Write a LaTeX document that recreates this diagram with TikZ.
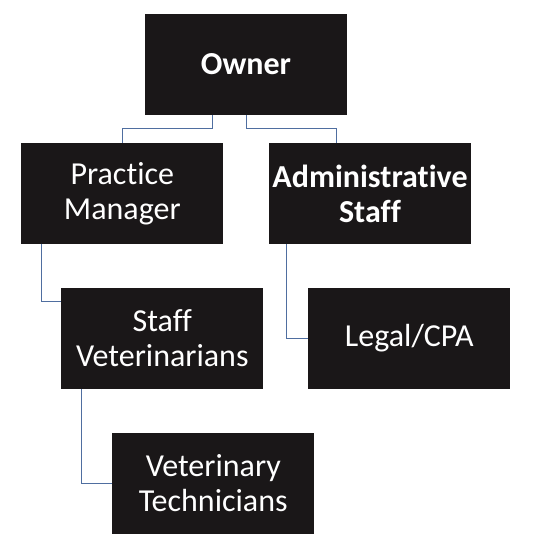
\documentclass[tikz,border=0pt]{standalone}
\usepackage{fontspec}
\setmainfont[RawFeature={-liga;-dlig;-clig}]{Carlito}
\definecolor{boxfill}{RGB}{26,23,24}
\definecolor{connblue}{RGB}{79,110,160}
\begin{document}
\begin{tikzpicture}[x=1pt,y=-1pt,
  orgbox/.style={rectangle, fill=boxfill, text=white, minimum width=202pt, minimum height=101pt,
    inner sep=0pt, align=center, font=\fontsize{32}{35}\selectfont},
  conn/.style={draw=connblue, line width=0.9pt}]
\useasboundingbox (0,0) rectangle (541,554);
\node[orgbox] (owner) at (246,64.5) {\textbf{Owner}};
\node[orgbox] (pm) at (122.3,193.5) {Practice\\Manager};
\node[orgbox] (admin) at (370,193.5) {\textbf{Administrative}\\\textbf{Staff}};
\node[orgbox] (sv) at (162.3,338.5) {Staff\\Veterinarians};
\node[orgbox] (legal) at (409.3,338.5) {Legal/CPA};
\node[orgbox] (vt) at (213.3,483.4) {Veterinary\\Technicians};
\draw[conn] ([xshift=-34pt]owner.south) -- ++(0,13) -| (pm.north);
\draw[conn] (owner.south) -- ++(0,13) -| ([xshift=-34pt]admin.north);
\draw[conn] ([xshift=20pt]pm.south west) |- ([yshift=37.5pt]sv.west);
\draw[conn] ([xshift=18pt]admin.south west) |- (legal.west);
\draw[conn] ([xshift=20pt]sv.south west) |- (vt.west);
\end{tikzpicture}
\end{document}
